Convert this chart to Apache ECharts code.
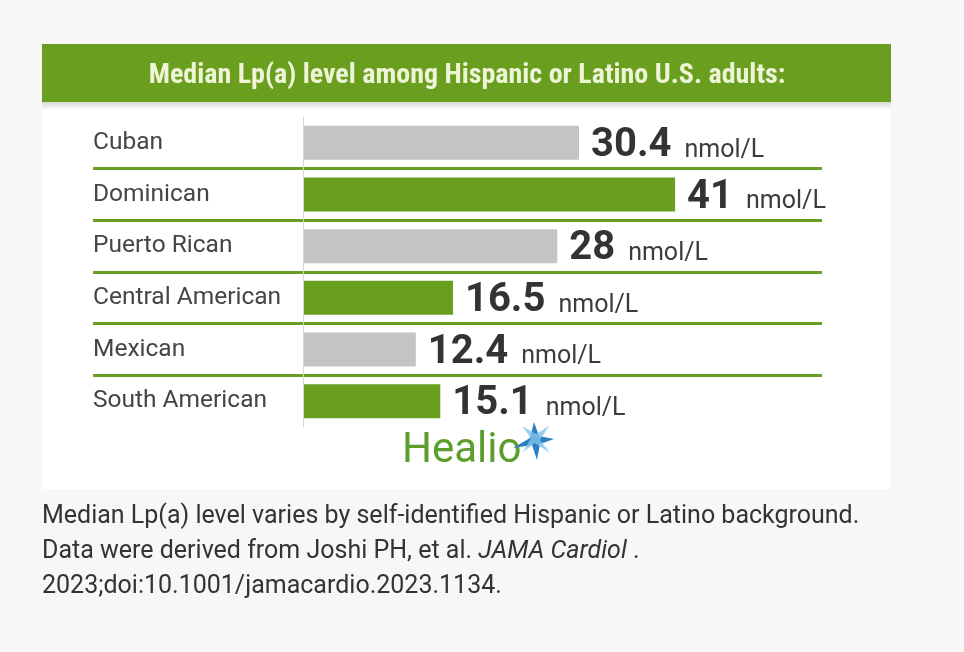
<!DOCTYPE html>
<html>
<head>
<meta charset="utf-8">
<title>Median Lp(a) level among Hispanic or Latino U.S. adults</title>
<script src="https://cdn.jsdelivr.net/npm/echarts@6/dist/echarts.min.js"></script>
<style>
  html, body { margin: 0; padding: 0; background: #f7f7f7; }
  #chart { width: 964px; height: 652px; }
</style>
</head>
<body>
<div id="chart"></div>
<script>
// data
var groups = ['Cuban', 'Dominican', 'Puerto Rican', 'Central American', 'Mexican', 'South American'];
var lpaValues = [30.4, 41, 28, 16.5, 12.4, 15.1];
var unit = 'nmol/L';

var GREEN = '#6a9e1f';
var GRAY = '#c4c4c4';

var chart = echarts.init(document.getElementById('chart'));

var option = {
    backgroundColor: '#f7f7f7',
    animation: false,
    grid: {
        left: 93,
        right: 142,
        top: 117,
        bottom: 225
    },
    xAxis: {
        type: 'value',
        // 0 sits where the bars start, the negative part is the label column
        min: -23.2,
        max: 57.2,
        show: false
    },
    yAxis: {
        type: 'category',
        data: groups,
        inverse: true,
        axisLine: { show: false },
        axisTick: { show: false },
        axisLabel: {
            align: 'left',
            margin: 0,
            padding: [3, 0, 0, 0],
            fontFamily: 'Roboto',
            fontSize: 24.5,
            color: '#454545'
        },
        splitLine: {
            show: true,
            showMinLine: false,
            showMaxLine: false,
            lineStyle: { color: GREEN, width: 3 }
        }
    },
    series: [
        {
            type: 'bar',
            data: lpaValues,
            barWidth: 34,
            itemStyle: {
                color: function (p) {
                    return p.dataIndex % 2 ? GREEN : GRAY;
                }
            },
            label: {
                show: true,
                position: 'right',
                distance: 12,
                offset: [0, 3],
                formatter: function (p) {
                    return '{v|' + p.value + '}{u|' + unit + '}';
                },
                rich: {
                    v: {
                        fontFamily: 'Roboto',
                        fontWeight: 'bold',
                        fontSize: 40,
                        color: '#333333',
                        padding: [0, 13, 0, 0]
                    },
                    u: {
                        fontFamily: 'Roboto',
                        fontSize: 25,
                        color: '#3c3c3c',
                        padding: [9, 0, 0, 0]
                    }
                }
            },
            markLine: {
                silent: true,
                symbol: 'none',
                label: { show: false },
                lineStyle: { color: '#d6d6d6', width: 1, type: 'solid' },
                data: [{ xAxis: 0 }]
            }
        }
    ],
    graphic: [
        // white picture panel
        { type: 'rect', z: -10, shape: { x: 42, y: 44, width: 849, height: 445 }, style: { fill: '#ffffff' } },
        // header shadow
        {
            type: 'rect', z: -5, shape: { x: 42, y: 102, width: 849, height: 8 },
            style: {
                fill: new echarts.graphic.LinearGradient(0, 0, 0, 1, [
                    { offset: 0, color: 'rgba(0,0,0,0.16)' },
                    { offset: 1, color: 'rgba(0,0,0,0)' }
                ])
            }
        },
        // green header
        { type: 'rect', z: -4, shape: { x: 42, y: 44, width: 849, height: 58 }, style: { fill: GREEN } },
        {
            type: 'text', x: 467, y: 76, z: 5,
            style: {
                text: 'Median Lp(a) level among Hispanic or Latino U.S. adults:',
                fill: '#eef4d6',
                align: 'center',
                verticalAlign: 'middle',
                font: 'bold 28px "Liberation Sans Narrow", "Roboto Condensed", Roboto, sans-serif'
            }
        },
        // Healio logo
        {
            type: 'text', left: 402, top: 430, z: 5,
            style: {
                text: 'Healio',
                fill: '#5b9e2e',
                font: '42px Roboto, "Open Sans", sans-serif'
            }
        },
        {
            type: 'polygon', z: 6,
            shape: {
                points: [[534, 422], [539, 436], [554, 439], [540, 444], [537, 460],
                         [532, 445], [513, 448], [530, 438]]
            },
            style: { fill: '#2a7fc0' }
        },
        {
            type: 'polygon', z: 7,
            shape: {
                points: [[549, 426], [540, 440], [550, 453], [535, 443], [523, 452],
                         [531, 438], [522, 426], [536, 434]]
            },
            style: { fill: '#7fc4e8', opacity: 0.8 }
        },
        // caption
        {
            type: 'text', left: 42, top: 504,
            style: {
                text: 'Median Lp(a) level varies by self-identified Hispanic or Latino background.',
                fill: '#333333',
                font: '25px Roboto, sans-serif'
            }
        },
        {
            type: 'text', left: 42, top: 539,
            style: {
                text: '{n|Data were derived from Joshi PH, et al. }{i|JAMA Cardiol}{n| .}',
                rich: {
                    n: { fill: '#333333', fontFamily: 'Roboto', fontSize: 25 },
                    i: { fill: '#333333', fontFamily: 'Roboto', fontSize: 25, fontStyle: 'italic' }
                }
            }
        },
        {
            type: 'text', left: 42, top: 574,
            style: {
                text: '2023;doi:10.1001/jamacardio.2023.1134.',
                fill: '#333333',
                font: '25px Roboto, sans-serif'
            }
        }
    ]
};

chart.setOption(option);
</script>
</body>
</html>
